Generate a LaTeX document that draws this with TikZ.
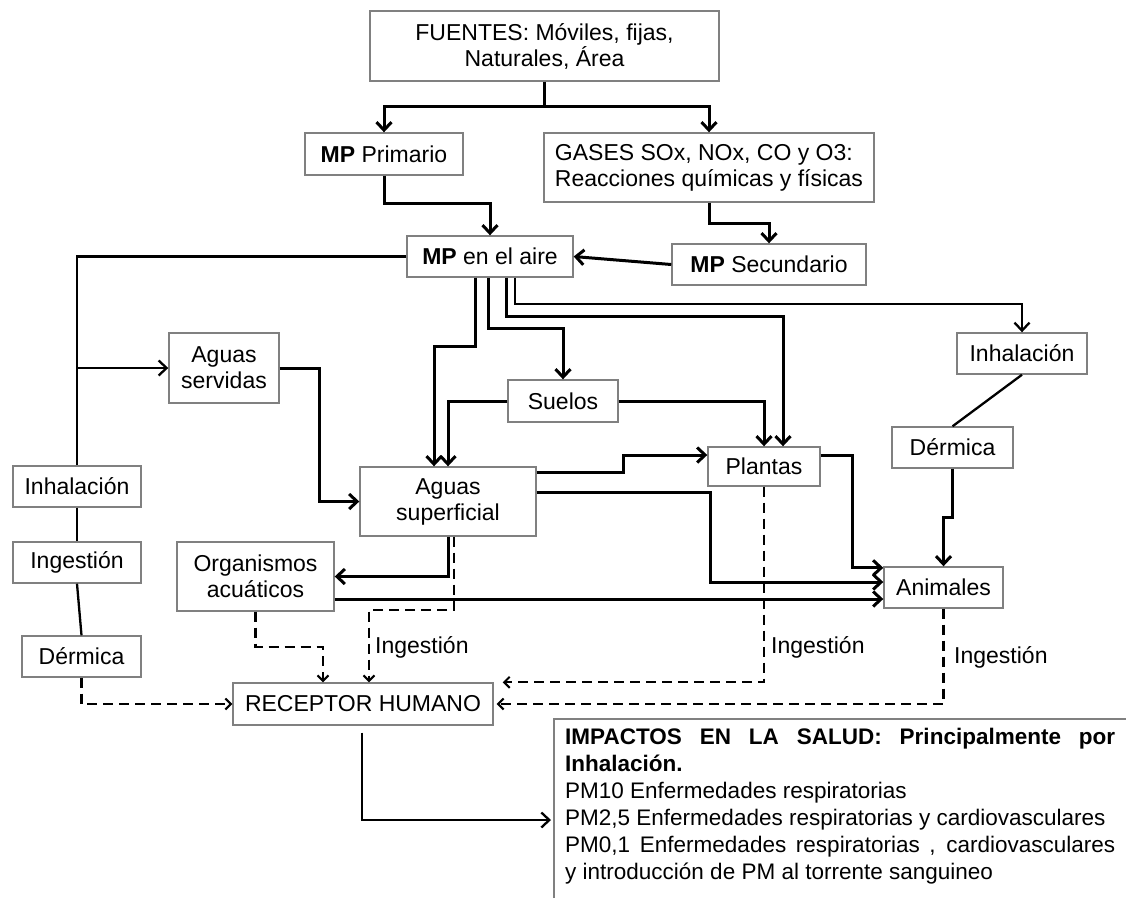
\documentclass[tikz,border=0pt]{standalone}
\usepackage{fontspec}
\setmainfont{Liberation Sans}
\usetikzlibrary{arrows.meta,calc}
\newcommand\myfs{\fontsize{23}{26}\selectfont}
\tikzset{
  box/.style={draw=black!50, line width=1.4pt, fill=white, inner sep=0pt, align=center, font=\myfs},
  conn/.style={line width=3pt, line join=miter, line cap=butt},
  thinconn/.style={line width=2.3pt, line join=miter},
  arr/.style={-{Straight Barb[length=8pt,width=15pt]}},
  dsh/.style={line width=2.1pt, dash pattern=on 10pt off 6pt, -{Straight Barb[length=5.5pt,width=11pt]}},
  lbl/.style={font=\myfs, inner sep=0pt, anchor=west},
}
\begin{document}
\begin{tikzpicture}[x=1pt, y=-1pt]
\fill[white] (0,0) rectangle (1126,898);
\useasboundingbox (0,0) rectangle (1126,898);

% boxes
\node[box, minimum width=349, minimum height=70] (fuentes) at (544.5,46) {FUENTES: Móviles, fijas,\\Naturales, Área};
\node[box, minimum width=158, minimum height=42] (prim) at (384,154) {\textbf{MP} Primario};
\node[box, minimum width=330, minimum height=69, inner xsep=11, align=left] (gases) at (709,167.5) {GASES SOx, NOx, CO y O3:\\Reacciones químicas y físicas};
\node[box, minimum width=166, minimum height=41] (aire) at (490,256.5) {\textbf{MP} en el aire};
\node[box, minimum width=194, minimum height=41] (sec) at (769,264.5) {\textbf{MP} Secundario};
\node[box, minimum width=110, minimum height=70] (servidas) at (224,368) {Aguas\\servidas};
\node[box, minimum width=110, minimum height=42] (suelos) at (563,401) {Suelos};
\node[box, minimum width=176, minimum height=69] (superficial) at (448,501.5) {Aguas\\superficial};
\node[box, minimum width=112, minimum height=39] (plantas) at (764,466.5) {Plantas};
\node[box, minimum width=130, minimum height=41] (inhR) at (1022,353.5) {Inhalación};
\node[box, minimum width=121, minimum height=41] (dermR) at (952.5,447.5) {Dérmica};
\node[box, minimum width=119, minimum height=41] (animales) at (943.5,587.5) {Animales};
\node[box, minimum width=157, minimum height=69] (organismos) at (255.5,576.5) {Organismos\\acuáticos};
\node[box, minimum width=128, minimum height=41] (inhL) at (77,486.5) {Inhalación};
\node[box, minimum width=128, minimum height=41] (ingL) at (77,562.5) {Ingestión};
\node[box, minimum width=119, minimum height=41] (dermL) at (81.5,656.5) {Dérmica};
\node[box, minimum width=260, minimum height=42] (receptor) at (363,704) {RECEPTOR HUMANO};

% impactos box (open to the right and bottom)
\node[anchor=north west, inner xsep=11pt, inner ysep=9pt, text width=550, align=justify,
      font=\fontsize{22.5}{27}\selectfont] (imp) at (554,719)
  {{\bfseries IMPACTOS EN LA SALUD: Principalmente por\linebreak Inhalación.}\\
   PM10 Enfermedades respiratorias\\
   PM2,5 Enfermedades respiratorias y cardiovasculares\\
   PM0,1 Enfermedades respiratorias , cardiovasculares\linebreak
   y introducción de PM al torrente sanguineo};
\draw[draw=black!50, line width=1.4pt] (imp.north west |- 0,898) -- (imp.north west) -- (imp.north west -| 1126,0);

% labels
\node[lbl] (lab1) at (375,647) {Ingestión};
\node[lbl] (lab2) at (771,647) {Ingestión};
\node[lbl] (lab3) at (954,657) {Ingestión};

% connectors from fuentes
\draw[conn] (fuentes.south) -- ++(0,25) coordinate (fj);
\draw[conn,arr] (fj) -| (prim.north);
\draw[conn,arr] (fj) -| (gases.north);
\draw[conn,arr] (prim.south) -- ++(0,28) -| (aire.north);
\draw[conn,arr] (gases.south) -- ++(0,21) -| (sec.north);
\draw[conn,arr] (sec.west) -- (aire.east);

% left column
\draw[thinconn] (aire.west) -| (inhL.north);
\draw[thinconn,arr] (inhL.north |- servidas.west) -- (servidas.west);
\draw[thinconn] (inhL.south) -- (ingL.north);
\draw[thinconn] (ingL.south) -- (dermL.north);
\draw[dsh] (dermL.south) |- (receptor.west);

% aguas servidas to superficial
\draw[conn,arr] (servidas.east) -| ($(superficial.west)+(-40,0)$) -- (superficial.west);

% lines below MP en el aire
\coordinate (a1) at ($(aire.south west)+(69,0)$);
\coordinate (a2) at ($(aire.south west)+(82,0)$);
\coordinate (a3) at ($(aire.south west)+(100,0)$);
\coordinate (a4) at ($(aire.south west)+(109,0)$);
\draw[conn,arr] (a1) -- ++(0,69) -| ($(superficial.north)+(-14,0)$);
\draw[conn,arr] (a2) -- ++(0,51) -| (suelos.north);
\draw[conn,arr] (a3) -- ++(0,39) -| ($(plantas.north)+(19,0)$);
\draw[thinconn,arr] (a4) -- ++(0,26) -| (inhR.north);

% suelos
\draw[conn,arr] (suelos.west) -| (superficial.north);
\draw[conn,arr] (suelos.east) -| (plantas.north);

% superficial outputs
\draw[conn,arr] ($(superficial.north east)+(0,6)$) -- ++(87,0) |- ($(plantas.west)+(0,-11.5)$);
\draw[conn,arr] ($(superficial.north east)+(0,26)$) -- ++(174,0) |- ($(animales.west)+(0,-5.5)$);
\draw[conn,arr] (superficial.south) |- (organismos.east);
\draw[conn,arr] ($(plantas.east)+(0,-11.5)$) -- ++(32,0) |- ($(animales.north west)+(0,1.5)$);
\draw[conn,arr] ($(organismos.east)+(0,22.5)$) -- ($(animales.west)+(0,11.5)$);

% right column
\draw[thinconn] (inhR.south) -- (dermR.north);
\draw[conn,arr] (dermR.south) -- ++(0,49) -| (animales.north);

% dashed ingestion paths
\draw[dsh] ($(superficial.south)+(6,0)$) -- ++(0,73) -| ($(receptor.north)+(6,0)$);
\draw[dsh] (organismos.south) -- ++(0,35) -| ($(receptor.north)+(-40,0)$);
\draw[dsh] (plantas.south) |- ($(receptor.north east)+(9,0)$);
\draw[dsh] (animales.south) |- ($(receptor.east)+(3,0)$);

% receptor to impactos
\draw[thinconn,arr] ($(receptor.south)+(-1,7)$) |- ($(imp.north west)+(-3,101)$);
\end{tikzpicture}
\end{document}
